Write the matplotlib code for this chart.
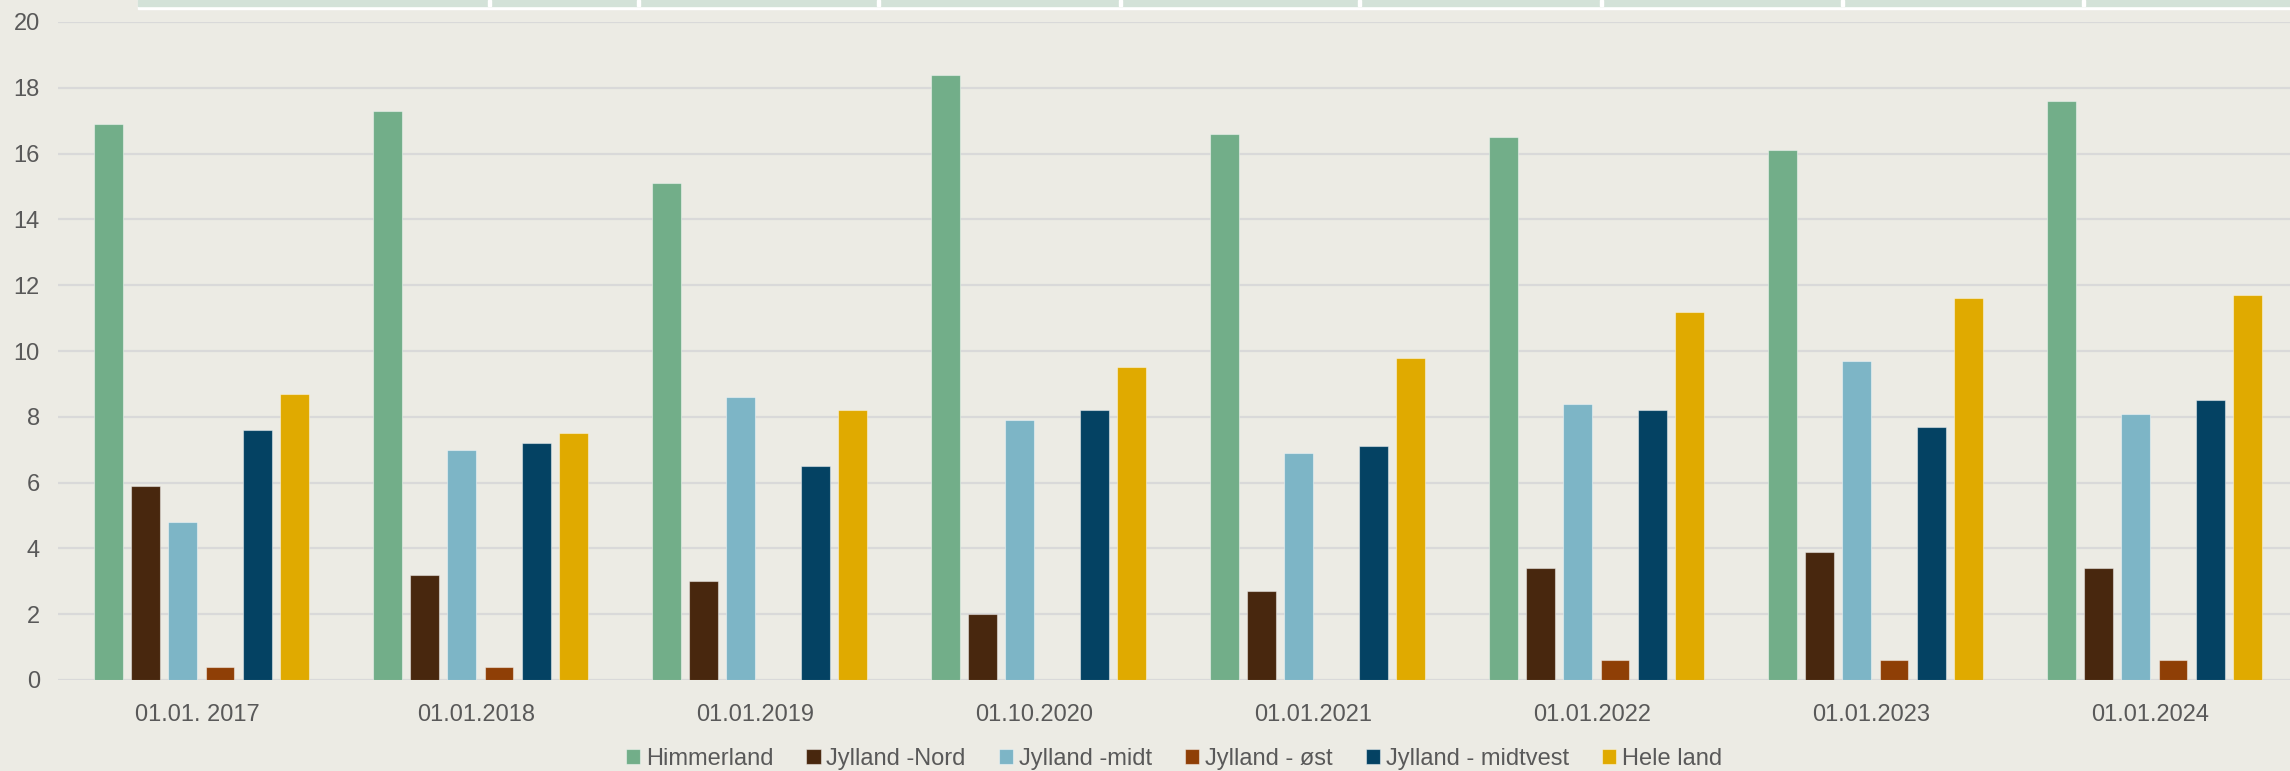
import numpy as np
import matplotlib
matplotlib.use('Agg')
import matplotlib.pyplot as plt
from matplotlib.patches import Rectangle

plt.rcParams['font.family'] = ['Liberation Sans', 'DejaVu Sans']

# Data
dates = ['01.01. 2017', '01.01.2018', '01.01.2019', '01.10.2020',
         '01.01.2021', '01.01.2022', '01.01.2023', '01.01.2024']
series_names = ['Himmerland', 'Jylland -Nord', 'Jylland -midt',
                'Jylland - øst', 'Jylland - midtvest', 'Hele land']
himmerland = [16.9, 17.3, 15.1, 18.4, 16.6, 16.5, 16.1, 17.6]
jylland_nord = [5.9, 3.2, 3.0, 2.0, 2.7, 3.4, 3.9, 3.4]
jylland_midt = [4.8, 7.0, 8.6, 7.9, 6.9, 8.4, 9.7, 8.1]
jylland_oest = [0.4, 0.4, 0.0, 0.0, 0.0, 0.6, 0.6, 0.6]
jylland_midtvest = [7.6, 7.2, 6.5, 8.2, 7.1, 8.2, 7.7, 8.5]
hele_land = [8.7, 7.5, 8.2, 9.5, 9.8, 11.2, 11.6, 11.7]

colors = ['#72AE89', '#48270E', '#7DB5C6', '#8F3F06', '#044263', '#E0AA00']
bg = '#ECEBE4'
text_col = '#595959'

all_series = [himmerland, jylland_nord, jylland_midt,
              jylland_oest, jylland_midtvest, hele_land]

fig = plt.figure(figsize=(22.9, 7.71), dpi=100, facecolor=bg)
ax = fig.add_axes([58 / 2290, 1 - 680 / 771, 1 - 58 / 2290, (680 - 22) / 771])
ax.set_facecolor(bg)

# leftover table strip at the very top of the picture
fig.patches.append(Rectangle((138 / 2290, 1 - 9 / 771), 1, 9 / 771,
                             transform=fig.transFigure, color='white', zorder=0))
fig.patches.append(Rectangle((138 / 2290, 1 - 6 / 771), 1, 6 / 771,
                             transform=fig.transFigure, color='#D3E2D8', zorder=1))
for sx in [488, 637, 877, 1119, 1358, 1600, 1841, 2082]:
    fig.patches.append(Rectangle((sx / 2290, 1 - 6 / 771), 3 / 2290, 6 / 771,
                                 transform=fig.transFigure, color='white', zorder=2))

x = np.arange(len(dates))
step = 0.1335
width = 0.103
for i, (vals, name, col) in enumerate(zip(all_series, series_names, colors)):
    ax.bar(x + (i - 2.5) * step + 0.014, vals, width, color=col, label=name,
           edgecolor=(1, 1, 1, 0.45), linewidth=0.8, zorder=3)

ax.set_xlim(-0.5, len(dates) - 0.5)
ax.set_ylim(0, 20)
ax.set_yticks(np.arange(0, 21, 2))
ax.set_xticks(x)
ax.set_xticklabels(dates)
ax.grid(axis='y', color='#D9D9D9', linewidth=1.6, zorder=0)
ax.set_axisbelow(True)
for s in ax.spines.values():
    s.set_visible(False)
ax.tick_params(axis='both', length=0, labelsize=17, labelcolor=text_col)
ax.tick_params(axis='x', pad=17)
ax.tick_params(axis='y', pad=13)

leg = ax.legend(loc='center', bbox_to_anchor=(0.5, -(759 - 680) / 658), ncol=6,
                frameon=False, fontsize=17, handlelength=0.6, handleheight=0.6,
                handletextpad=0.25, columnspacing=1.4, labelcolor=text_col,
                borderpad=0)

fig.savefig('out.png', dpi=100, facecolor=bg)
